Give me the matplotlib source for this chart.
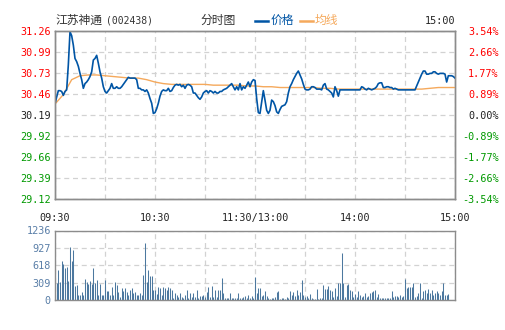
import matplotlib
matplotlib.use("Agg")
import matplotlib.pyplot as plt
import numpy as np

# --- data (one value per trading minute) ---
stock_name = "江苏神通"
stock_code = "(002438)"
prev_close = 30.19

price = [
    30.33, 30.42, 30.50, 30.50, 30.49, 30.44, 30.49, 30.51, 30.83, 31.25,
    31.20, 31.08, 30.91, 30.87, 30.81, 30.72, 30.64, 30.53, 30.59, 30.61,
    30.64, 30.68, 30.74, 30.89, 30.91, 30.95, 30.85, 30.74, 30.66, 30.55,
    30.49, 30.47, 30.50, 30.53, 30.59, 30.53, 30.53, 30.55, 30.53, 30.53,
    30.55, 30.58, 30.61, 30.64, 30.67, 30.66, 30.66, 30.66, 30.66, 30.64,
    30.53, 30.53, 30.51, 30.51, 30.49, 30.51, 30.47, 30.40, 30.34, 30.21,
    30.22, 30.27, 30.34, 30.43, 30.49, 30.51, 30.50, 30.50, 30.53, 30.49,
    30.50, 30.54, 30.57, 30.58, 30.57, 30.58, 30.55, 30.57, 30.53, 30.57,
    30.58, 30.57, 30.55, 30.47, 30.47, 30.44, 30.41, 30.39, 30.42, 30.47,
    30.49, 30.50, 30.47, 30.50, 30.49, 30.47, 30.49, 30.47, 30.47, 30.49,
    30.49, 30.51, 30.52, 30.53, 30.55, 30.57, 30.59, 30.55, 30.51, 30.55,
    30.51, 30.59, 30.51, 30.55, 30.53, 30.57, 30.61, 30.55, 30.61, 30.64,
    30.63, 30.40, 30.22, 30.21, 30.36, 30.50, 30.38, 30.25, 30.21, 30.25,
    30.38, 30.36, 30.31, 30.23, 30.21, 30.26, 30.30, 30.31, 30.32, 30.36,
    30.47, 30.55, 30.59, 30.64, 30.68, 30.72, 30.75, 30.70, 30.65, 30.58,
    30.52, 30.51, 30.51, 30.52, 30.55, 30.55, 30.54, 30.52, 30.52, 30.52,
    30.51, 30.57, 30.59, 30.52, 30.51, 30.49, 30.47, 30.42, 30.55, 30.50,
    30.43, 30.51, 30.51, 30.51, 30.51, 30.51, 30.51, 30.51, 30.51, 30.51,
    30.51, 30.51, 30.51, 30.51, 30.55, 30.54, 30.52, 30.51, 30.53, 30.52,
    30.51, 30.52, 30.53, 30.55, 30.59, 30.60, 30.60, 30.54, 30.54, 30.55,
    30.55, 30.54, 30.54, 30.52, 30.53, 30.52, 30.51, 30.51, 30.51, 30.51,
    30.51, 30.51, 30.51, 30.51, 30.51, 30.51, 30.51, 30.56, 30.61, 30.66,
    30.71, 30.75, 30.75, 30.71, 30.71, 30.72, 30.72, 30.74, 30.74, 30.72,
    30.71, 30.72, 30.72, 30.72, 30.71, 30.61, 30.69, 30.69, 30.69, 30.68,
    30.66,
]

# average price, read every 5 minutes
avg_minutes = list(range(0, 241, 5))
avg_price = [
    30.33, 30.45, 30.64, 30.69, 30.70, 30.70, 30.69, 30.68, 30.67, 30.66,
    30.66, 30.64, 30.61, 30.59, 30.58, 30.58, 30.58, 30.58, 30.58, 30.57,
    30.57, 30.57, 30.57, 30.56, 30.56, 30.55, 30.55, 30.54, 30.54, 30.54,
    30.54, 30.54, 30.53, 30.53, 30.52, 30.52, 30.52, 30.52, 30.52, 30.52,
    30.52, 30.52, 30.52, 30.52, 30.52, 30.53, 30.54, 30.54, 30.54,
]

volume = [
    0, 297, 535, 315, 695, 636, 576, 594, 339, 950,
    695, 891, 250, 267, 89, 89, 148, 95, 374, 315,
    280, 339, 280, 576, 297, 356, 89, 285, 89, 89,
    356, 160, 160, 89, 238, 89, 315, 267, 148, 59,
    220, 160, 208, 148, 89, 178, 208, 131, 148, 89,
    89, 119, 89, 445, 1010, 327, 535, 434, 434, 178,
    178, 101, 238, 208, 89, 238, 208, 178, 238, 220,
    178, 42, 119, 89, 59, 119, 59, 42, 89, 178,
    42, 119, 59, 119, 59, 178, 42, 77, 77, 89,
    59, 148, 238, 59, 255, 59, 178, 59, 178, 178,
    386, 119, 42, 42, 42, 119, 42, 30, 42, 42,
    119, 30, 42, 59, 77, 42, 89, 42, 77, 42,
    416, 119, 220, 208, 71, 89, 160, 71, 36, 20,
    42, 42, 48, 148, 166, 12, 30, 42, 20, 59,
    42, 160, 89, 148, 71, 178, 89, 137, 356, 89,
    59, 77, 42, 107, 42, 24, 24, 196, 24, 42,
    42, 261, 190, 190, 250, 178, 160, 59, 220, 65,
    297, 309, 843, 309, 59, 261, 279, 178, 160, 59,
    107, 48, 160, 89, 59, 71, 131, 48, 71, 131,
    143, 160, 178, 59, 107, 36, 36, 36, 36, 36,
    36, 36, 166, 48, 71, 71, 48, 89, 48, 71,
    368, 220, 226, 226, 226, 309, 48, 71, 119, 309,
    42, 166, 178, 131, 190, 119, 178, 95, 131, 160,
    131, 83, 166, 309, 89, 89, 107, 0, 0, 0,
    220,
]

price_labels = ["29.12", "29.39", "29.66", "29.92", "30.19", "30.46", "30.73", "30.99", "31.26"]
pct_labels = ["-3.54%", "-2.66%", "-1.77%", "-0.89%", "0.00%", "0.89%", "1.77%", "2.66%", "3.54%"]
time_labels = ["09:30", "", "10:30", "", "11:30/13:00", "", "14:00", "", "15:00"]
vol_labels = ["0", "309", "618", "927", "1236"]

# --- styling ---
RED = "#ff0000"
GREEN = "#009900"
BLUE = "#0055a5"
ORANGE = "#f5a95c"
VOLC = "#4c789f"
GRID = "#d2d2d2"
EDGE = "#8c8c8c"
MONO = "DejaVu Sans Mono"
CJK = ["Noto Sans CJK SC", "DejaVu Sans"]

fig = plt.figure(figsize=(5.05, 3.30), dpi=100)
fig.patch.set_facecolor("white")

ax = fig.add_axes([55 / 505, 1 - 199 / 330, 400 / 505, 168 / 330])
axv = fig.add_axes([55 / 505, 1 - 300 / 330, 400 / 505, 69.5 / 330])

minutes = np.arange(len(price))
lo, hi = 29.12, 31.26

ax.plot(avg_minutes, avg_price, color=ORANGE, lw=1.0, zorder=3)
ax.plot(minutes, price, color=BLUE, lw=1.2, zorder=4)
ax.set_xlim(0, 240)
ax.set_ylim(lo, hi)

yt = np.linspace(lo, hi, 9)
ax.set_yticks(yt)
ax.set_yticklabels(price_labels, fontfamily=MONO, fontsize=7.3)
ax.set_xticks(np.arange(0, 241, 30))
ax.set_xticklabels(time_labels, fontfamily=MONO, fontsize=7.3, color="#222222")
ax.tick_params(length=0, pad=3)
ax.tick_params(axis="x", pad=10)

# right axis: change vs previous close, labels right-aligned at the figure edge
ax2 = ax.twinx()
ax2.set_ylim(lo, hi)
ax2.set_yticks(yt)
ax2.set_yticklabels(pct_labels, fontfamily=MONO, fontsize=7.3, ha="right")
ax2.tick_params(length=0, pad=31.5)

for i, (l1, l2) in enumerate(zip(ax.get_yticklabels(), ax2.get_yticklabels())):
    c = RED if i > 4 else (GREEN if i < 4 else "#222222")
    l1.set_color(c)
    l2.set_color(c)

ax.grid(True, color=GRID, ls=(0, (4, 3)), lw=0.9)
for a in (ax, ax2, axv):
    for s in a.spines.values():
        s.set_color(EDGE)
        s.set_linewidth(1.0)

# volume bars
axv.vlines(np.arange(len(volume)), 0, volume, color=VOLC, lw=0.75)
axv.set_xlim(0, 240)
axv.set_ylim(0, 1236)
axv.set_xticks(np.arange(0, 241, 30))
axv.set_xticklabels([])
axv.set_yticks([0, 309, 618, 927, 1236])
axv.set_yticklabels(vol_labels, fontfamily=MONO, fontsize=7.3, color="#5a7fa8")
axv.tick_params(length=0, pad=3)
axv.grid(True, color=GRID, ls=(0, (4, 3)), lw=0.9)

# header row
fy = 1 - 20.5 / 330
fig.text(55 / 505, fy, stock_name, family=CJK, fontsize=8.5, color="#333333", va="center")
fig.text(106 / 505, fy, stock_code, family=MONO, fontsize=7, color="#333333", va="center")
fig.text(200 / 505, fy, "分时图", family=CJK, fontsize=8.5, color="#333333", va="center")
fig.lines.append(plt.Line2D([255 / 505, 268 / 505], [fy, fy], color=BLUE, lw=1.8, transform=fig.transFigure))
fig.text(271 / 505, fy, "价格", family=CJK, fontsize=8.5, color=BLUE, va="center")
fig.lines.append(plt.Line2D([300 / 505, 313 / 505], [fy, fy], color=ORANGE, lw=1.8, transform=fig.transFigure))
fig.text(315 / 505, fy, "均线", family=CJK, fontsize=8.5, color=ORANGE, va="center")
fig.text(455 / 505, fy, "15:00", family=MONO, fontsize=7.3, color="#222222", va="center", ha="right")

fig.savefig("out.png", dpi=100, facecolor="white")
